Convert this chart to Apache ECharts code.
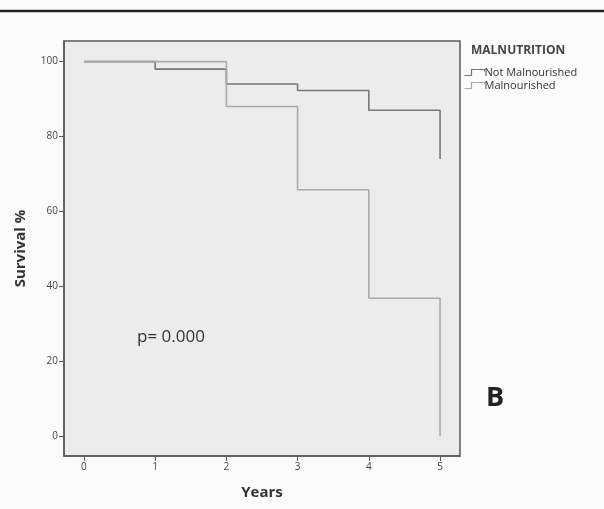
<!DOCTYPE html>
<html>
<head>
<meta charset="utf-8">
<script src="https://cdn.jsdelivr.net/npm/echarts@6/dist/echarts.min.js"></script>
<style>
html, body { margin: 0; padding: 0; background: #fbfbfb; }
#chart { width: 604px; height: 509px; }
</style>
</head>
<body>
<div id="chart"></div>
<script>
var yearTicks = [0, 1, 2, 3, 4, 5];
var survivalTicks = [0, 20, 40, 60, 80, 100];

// time of each drop (years) and survival % after it
var notMalYears = [0, 1, 2, 3, 4, 5];
var notMalSurv = [100, 98, 94, 92.3, 87, 74];
var malYears = [0, 2, 3, 4, 5];
var malSurv = [100, 88, 65.8, 36.8, 0];

var seriesNames = ['Not Malnourished', 'Malnourished'];

function pairs(xs, ys) {
    var out = [];
    for (var i = 0; i < xs.length; i++) out.push([xs[i], ys[i]]);
    return out;
}

var chart = echarts.init(document.getElementById('chart'));
var stepIcon = 'path://M0,6 L7,6 L7,0 L20,0 L20,2';

option = {
    backgroundColor: '#fbfbfb',
    animation: false,
    textStyle: { fontFamily: 'Open Sans' },
    grid: {
        left: 64, top: 41, width: 396, height: 415,
        show: true,
        backgroundColor: '#ececec',
        borderColor: '#5a5a5a',
        borderWidth: 1.5
    },
    legend: {
        orient: 'vertical',
        left: 462, top: 67,
        padding: 0,
        itemWidth: 20, itemHeight: 6,
        itemGap: 2,
        textStyle: { fontSize: 11, color: '#333', padding: [0, 0, 0, -5] },
        data: [
            { name: seriesNames[0], icon: stepIcon,
              itemStyle: { color: 'none', borderColor: '#777', borderWidth: 1.2 } },
            { name: seriesNames[1], icon: stepIcon,
              itemStyle: { color: 'none', borderColor: '#aaa', borderWidth: 1.2 } }
        ]
    },
    xAxis: {
        type: 'value',
        min: -0.28, max: 5.28,
        name: 'Years',
        nameLocation: 'middle',
        nameGap: 29,
        nameTextStyle: { fontSize: 15, fontWeight: 'bold', color: '#333' },
        axisLine: { show: true, onZero: false, lineStyle: { color: '#5a5a5a', width: 1.5 } },
        axisTick: { show: true, length: 5, customValues: yearTicks, lineStyle: { color: '#5a5a5a' } },
        axisLabel: { customValues: yearTicks, fontSize: 10, color: '#444', margin: 6 },
        splitLine: { show: false }
    },
    yAxis: {
        type: 'value',
        min: -5.3, max: 105.5,
        name: 'Survival %',
        nameLocation: 'middle',
        nameGap: 36,
        nameTextStyle: { fontSize: 15, fontWeight: 'bold', color: '#333' },
        axisLine: { show: true, onZero: false, lineStyle: { color: '#5a5a5a', width: 1.5 } },
        axisTick: { show: true, length: 5, customValues: survivalTicks, lineStyle: { color: '#5a5a5a' } },
        axisLabel: { customValues: survivalTicks, fontSize: 10, color: '#444', margin: 6 },
        splitLine: { show: false }
    },
    graphic: [
        { type: 'line', shape: { x1: 0, y1: 11, x2: 604, y2: 11 },
          style: { stroke: '#222', lineWidth: 2.5 } },
        { type: 'text', left: 471, top: 45,
          style: { text: 'MALNUTRITION', fontSize: 12, fontWeight: 'bold', fill: '#444', fontFamily: 'Open Sans' } },
        { type: 'text', left: 137, top: 329,
          style: { text: 'p= 0.000', fontSize: 17, fill: '#333', fontFamily: 'Open Sans' } },
        { type: 'text', left: 486, top: 385,
          style: { text: 'B', fontSize: 27, fontWeight: 'bold', fill: '#222', fontFamily: 'Open Sans' } }
    ],
    series: [
        {
            name: seriesNames[0],
            type: 'line',
            step: 'end',
            symbol: 'none',
            color: '#777',
            lineStyle: { color: '#777', width: 1.6 },
            data: pairs(notMalYears, notMalSurv)
        },
        {
            name: seriesNames[1],
            type: 'line',
            step: 'end',
            symbol: 'none',
            color: '#aaa',
            lineStyle: { color: '#aaa', width: 1.6 },
            data: pairs(malYears, malSurv)
        }
    ]
};
chart.setOption(option);
</script>
</body>
</html>
